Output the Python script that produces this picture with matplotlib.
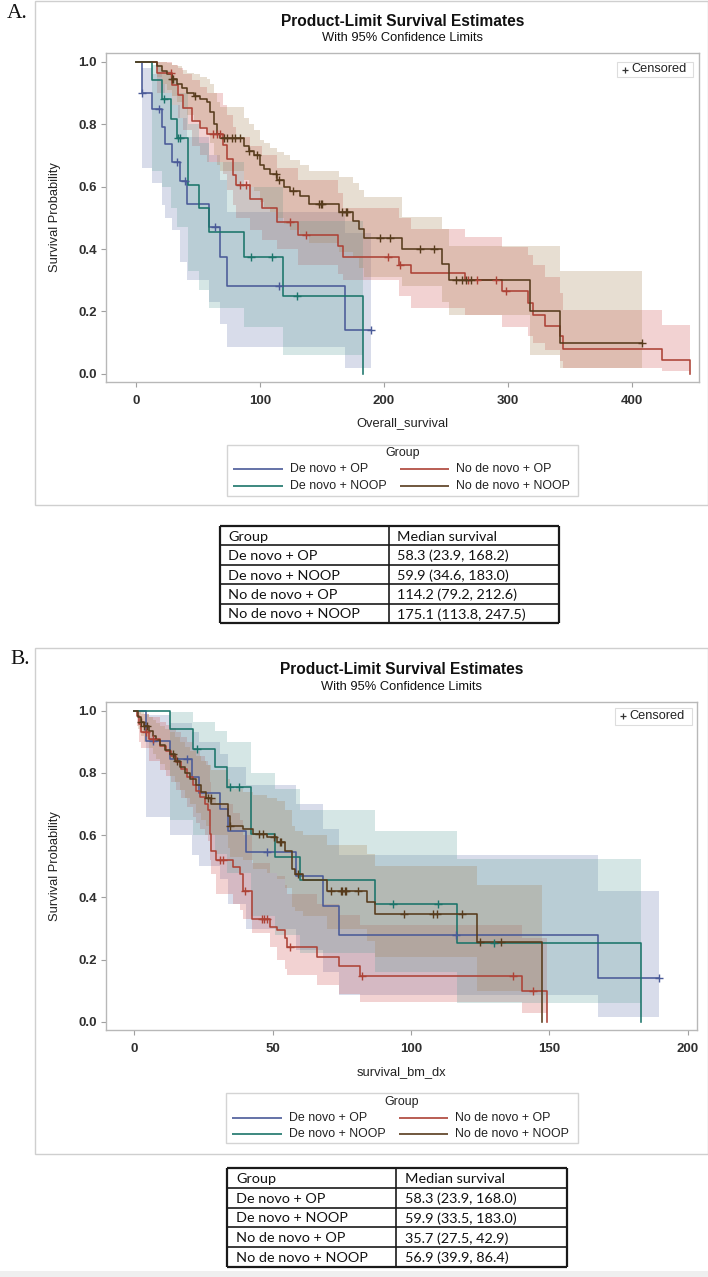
import numpy as np
import matplotlib
matplotlib.use('Agg')
import matplotlib.pyplot as plt
from matplotlib.lines import Line2D
from matplotlib.patches import Rectangle

plt.rcParams['font.family'] = ['Liberation Sans', 'DejaVu Sans']

# ---------------- DATA ----------------
GROUPS = ['De novo + OP', 'No de novo + OP', 'De novo + NOOP', 'No de novo + NOOP']

# Panel A : Overall_survival
A_dnop_t = [0, 4.6, 12.7, 20.8, 23.5, 28.8, 35.6, 41.5, 58.5, 67.9, 73.3, 168.5]
A_dnop_s = [1, .90, .847, .79, .735, .68, .617, .545, .47, .374, .282, .139]
A_dnop_lo = [1, .66, .61, .54, .50, .46, .36, .30, .23, .16, .085, .02]
A_dnop_hi = [1, .98, .96, .93, .90, .86, .82, .76, .70, .62, .52, .45]
A_dnop_end = (189.8, 'censored')
A_dnop_cens = [5.1, 18.9, 33.4, 39.6, 63.9, 115, 189.8]

A_dnnoop_t = [0, 12.7, 20.8, 28.0, 33.4, 42.3, 50.9, 58.5, 86.8, 118.6]
A_dnnoop_s = [1, .941, .882, .818, .757, .604, .53, .455, .374, .251]
A_dnnoop_lo = [1, .65, .60, .53, .47, .33, .27, .21, .15, .06]
A_dnnoop_hi = [1, .99, .97, .94, .90, .80, .74, .68, .60, .49]
A_dnnoop_end = (183.0, 'event')
A_dnnoop_cens = [22.9, 34.2, 35.6, 93.0, 109.7, 130.0]

A_ndnop_t = [0, 16.7, 28.8, 34, 38, 45, 51.6, 57, 70, 73, 78, 81, 92, 102, 114, 131, 163, 167,
             212, 222, 265, 295, 316, 320, 330, 342, 344, 424]
A_ndnop_s = [1, .965, .927, .895, .852, .81, .787, .77, .733, .69, .636, .604, .56, .53, .487, .444,
             .41, .374, .348, .323, .30, .266, .228, .19, .153, .12, .08, .043]
A_ndnop_lo = [1, .90, .86, .82, .78, .73, .70, .68, .64, .59, .54, .50, .46, .43, .40, .35, .32, .30,
              .25, .21, .19, .15, .12, .10, .077, .04, .02, .01]
A_ndnop_hi = [1, 1.0, .99, .98, .96, .94, .92, .90, .86, .83, .79, .76, .73, .70, .66, .62, .58, .53,
              .50, .465, .44, .405, .38, .35, .31, .26, .206, .158]
A_ndnop_end = (447, 'event')
A_ndnop_cens = [28.5, 62, 65, 68, 84, 89, 124.5, 136.7, 203, 213, 268, 275, 290, 298]

A_ndnnoop_t = [0, 17.3, 20.8, 24.8, 28.8, 32.9, 36.9, 41, 46.4, 51.8, 57.1, 59.8, 62.5, 65.2, 67.9,
               86.8, 90.8, 94.9, 100.3, 103, 108.4, 113.7, 119.1, 124.5, 132.6, 139.4, 163.6, 175.1,
               179.8, 183.8, 214.8, 246.5, 252.6, 317.7, 342]
A_ndnnoop_s = [1, .985, .97, .96, .945, .93, .915, .90, .89, .88, .87, .84, .80, .77, .757, .73, .715,
               .70, .67, .655, .64, .62, .60, .585, .57, .545, .52, .49, .465, .435, .40, .352, .30,
               .20, .099]
A_ndnnoop_lo = [1, .95, .93, .91, .89, .87, .85, .83, .81, .79, .77, .74, .70, .67, .65, .62, .60,
                .585, .55, .535, .52, .50, .48, .46, .445, .42, .39, .37, .34, .31, .28, .23, .19,
                .06, .02]
A_ndnnoop_hi = [1, 1.0, 1.0, .995, .99, .985, .975, .965, .96, .95, .945, .93, .90, .87, .855, .82,
                .80, .78, .75, .74, .725, .71, .70, .685, .67, .65, .63, .61, .59, .567, .503, .465,
                .41, .41, .33]
A_ndnnoop_end = (407.8, 'censored')
A_ndnnoop_cens = [28.8, 30.2, 47.2, 70.6, 73.3, 77.3, 80, 84, 90.8, 97.6, 113, 115, 126.6, 147.5,
                  148.8, 150.2, 166.3, 169, 170.4, 197, 205, 229, 240, 258, 263, 266, 270, 407.8]

# Panel B : survival_bm_dx
B_dnop_t = [0, 4.2, 12.7, 20.9, 23.3, 30.8, 33.9, 40.5, 58.3, 68, 74.1, 167.6]
B_dnop_s = [1, .904, .845, .786, .735, .684, .615, .545, .47, .374, .278, .14]
B_dnop_lo = [1, .66, .60, .535, .50, .46, .38, .30, .23, .16, .085, .017]
B_dnop_hi = [1, .985, .96, .93, .90, .86, .82, .76, .70, .62, .535, .42]
B_dnop_end = (189.5, 'censored')
B_dnop_cens = [6.6, 19, 47.8, 116.2, 189.5]

B_dnnoop_t = [0, 12.9, 21.2, 29, 33.3, 42, 50.8, 59.9, 87, 116.7]
B_dnnoop_s = [1, .941, .877, .82, .756, .604, .53, .455, .378, .252]
B_dnnoop_lo = [1, .65, .60, .54, .48, .34, .28, .22, .16, .06]
B_dnnoop_hi = [1, .995, .965, .935, .90, .80, .75, .68, .615, .525]
B_dnnoop_end = (183, 'event')
B_dnnoop_cens = [22.7, 34.7, 37.8, 93.4, 109.8, 130]

B_ndnop_t = [0, 0.85, 1.8, 2.4, 5.4, 9.1, 11.5, 13.3, 15.1, 16.9, 19, 21.2, 22.4, 23.6, 25.4, 26.6,
             27.2, 27.8, 29.6, 35.7, 38.1, 39.3, 42.5, 49, 51.5, 54.5, 55, 66, 73.8, 81.6, 140]
B_ndnop_s = [1, .984, .957, .93, .909, .888, .872, .856, .834, .813, .786, .76, .743, .722, .70, .68,
             .604, .55, .52, .497, .476, .42, .332, .305, .295, .27, .24, .21, .18, .147, .10]
B_ndnop_lo = [1, .95, .90, .88, .84, .81, .79, .77, .745, .72, .69, .66, .64, .62, .60, .58, .52,
              .475, .41, .38, .36, .33, .285, .24, .20, .17, .15, .12, .09, .065, .03]
B_ndnop_hi = [1, 1.0, .995, .99, .98, .965, .955, .945, .93, .915, .90, .88, .87, .855, .84, .825,
              .77, .72, .70, .67, .65, .60, .51, .48, .47, .44, .41, .38, .345, .31, .27]
B_ndnop_end = (149, 'event')
B_ndnop_cens = [4.0, 6.6, 31, 32, 40, 46, 47, 48, 56.3, 82.2, 136.7, 144]

B_ndnnoop_t = [0, 1.2, 2.4, 3.6, 5.4, 6.7, 7.9, 9.1, 10.9, 12.7, 14.5, 16.3, 18.1, 20, 22.4, 24.2,
               26, 27.8, 33.9, 34.5, 39.3, 42.9, 47.8, 51.4, 54.4, 56.9, 58, 60.9, 69.5, 84, 87, 124]
B_ndnnoop_s = [1, .98, .965, .95, .935, .92, .905, .89, .875, .86, .84, .82, .80, .78, .76, .74, .72,
               .70, .663, .63, .62, .604, .594, .578, .55, .49, .475, .455, .422, .385, .348, .257]
B_ndnnoop_lo = [1, .94, .92, .90, .88, .86, .845, .83, .81, .79, .77, .745, .72, .70, .67, .65, .63,
                .60, .56, .53, .52, .49, .48, .46, .43, .37, .355, .34, .30, .26, .21, .10]
B_ndnnoop_hi = [1, 1.0, .995, .99, .98, .97, .96, .95, .94, .93, .915, .90, .885, .87, .855, .84,
                .825, .81, .78, .75, .74, .73, .72, .71, .68, .63, .615, .60, .57, .54, .50, .44]
B_ndnnoop_end = (147.5, 'event')
B_ndnnoop_cens = [2.4, 3.6, 4.5, 14, 15.5, 26.5, 27.5, 34.5, 45, 46.5, 50.5, 52.5, 53, 59, 71, 74.5,
                  75.2, 76, 76.5, 80.8, 97.3, 108, 109.5, 118.3, 125, 132.7]

A_xticks = [0, 100, 200, 300, 400]
B_xticks = [0, 50, 100, 150, 200]
Y_ticks = [0.0, 0.2, 0.4, 0.6, 0.8, 1.0]
Y_ticklabels = ['0.0', '0.2', '0.4', '0.6', '0.8', '1.0']

TABLE_HEADER = ['Group', 'Median survival']
A_medians = ['58.3 (23.9, 168.2)', '59.9 (34.6, 183.0)', '114.2 (79.2, 212.6)', '175.1 (113.8, 247.5)']
B_medians = ['58.3 (23.9, 168.0)', '59.9 (33.5, 183.0)', '35.7 (27.5, 42.9)', '56.9 (39.9, 86.4)']
TABLE_GROUPS = ['De novo + OP', 'De novo + NOOP', 'No de novo + OP', 'No de novo + NOOP']

# ---------------- STYLE ----------------
LINE_COL = {'De novo + OP': '#4a5a98', 'No de novo + OP': '#ad4236',
            'De novo + NOOP': '#1b746a', 'No de novo + NOOP': '#573b1c'}
FILL_COL = {'De novo + OP': '#6F7EB3', 'No de novo + OP': '#D05B5B',
            'De novo + NOOP': '#66A5A0', 'No de novo + NOOP': '#A9865B'}
FILL_ALPHA = 0.27

W, H = 708, 1277
fig = plt.figure(figsize=(W / 100, H / 100), dpi=100)


def fx(x):
    return x / W


def fy(y):
    return 1 - y / H


def add_rect(x0, y0, x1, y1, ec, lw=1.0, fc='none', z=0):
    fig.add_artist(Rectangle((fx(x0), fy(y1)), (x1 - x0) / W, (y1 - y0) / H,
                             transform=fig.transFigure, fill=(fc != 'none'), fc=fc, ec=ec, lw=lw, zorder=z))


def add_line(x0, x1, y0, y1, color, lw):
    fig.add_artist(Line2D([fx(x0), fx(x1)], [fy(y0), fy(y1)], transform=fig.transFigure,
                          color=color, lw=lw, solid_capstyle='butt'))


def draw_panel(box, data, xlim, xticks, xlabel, title_y, sub_y, cens_box, xlabel_y,
               leg_box, leg_title_y, leg_rows):
    x0, y0, x1, y1 = box
    ax = fig.add_axes([fx(x0), fy(y1), (x1 - x0) / W, (y1 - y0) / H])
    # bands first
    for g in GROUPS:
        t, s, lo, hi, end, cens = data[g]
        xe = list(t) + [end[0]]
        ax.fill_between(xe, list(lo) + [lo[-1]], list(hi) + [hi[-1]], step='post',
                        color=FILL_COL[g], alpha=FILL_ALPHA, lw=0, zorder=1)
    for g in GROUPS:
        t, s, lo, hi, end, cens = data[g]
        xe = list(t) + [end[0]]
        ye = list(s) + [0.0 if end[1] == 'event' else s[-1]]
        ax.step(xe, ye, where='post', color=LINE_COL[g], lw=1.15, zorder=3)
        ta = np.asarray(t)
        cy = [s[np.searchsorted(ta, c, side='right') - 1] for c in cens]
        ax.plot(cens, cy, ls='none', marker='+', ms=6, mew=1.0, color=LINE_COL[g], zorder=4)
    ax.set_xlim(*xlim)
    ax.set_ylim(-0.026, 1.028)
    ax.set_xticks(xticks)
    ax.set_yticks(Y_ticks)
    ax.set_yticklabels(Y_ticklabels)
    for sp in ax.spines.values():
        sp.set_color('#b8b8b8')
        sp.set_linewidth(1.0)
    ax.tick_params(axis='both', direction='out', length=3.5, width=0.8, color='#a0a0a0',
                   labelsize=9.5, labelcolor='#303030')
    ax.tick_params(axis='x', pad=6)
    ax.tick_params(axis='y', pad=3)
    for lab in ax.get_xticklabels() + ax.get_yticklabels():
        lab.set_fontweight('bold')
    # titles
    cx = (x0 + x1) / 2
    fig.text(fx(cx), fy(title_y), 'Product-Limit Survival Estimates', ha='center', va='center',
             fontsize=11.2, fontweight='bold', color='#111111')
    fig.text(fx(cx), fy(sub_y), 'With 95% Confidence Limits', ha='center', va='center',
             fontsize=9.3, color='#111111')
    fig.text(fx(55), fy((y0 + y1) / 2), 'Survival Probability', rotation=90, ha='center',
             va='center', fontsize=9.3, color='#222222')
    fig.text(fx(cx), fy(xlabel_y), xlabel, ha='center', va='center', fontsize=9.3, color='#222222')
    # censored legend
    cbx0, cby0, cbx1, cby1 = cens_box
    add_rect(cbx0, cby0, cbx1, cby1, ec='#dddddd', fc='white', lw=0.8, z=5)
    fig.add_artist(Line2D([fx(cbx0 + 8)], [fy((cby0 + cby1) / 2)], transform=fig.transFigure,
                          marker='+', ms=4.5, mew=0.9, color='#333333', ls='none', zorder=6))
    fig.text(fx(cbx0 + 14), fy((cby0 + cby1) / 2), 'Censored', ha='left', va='center',
             fontsize=9.2, color='#222222', zorder=6)
    # group legend
    lx0, ly0, lx1, ly1 = leg_box
    add_rect(lx0, ly0, lx1, ly1, ec='#d4d4d4', lw=1.0)
    fig.text(fx((lx0 + lx1) / 2), fy(leg_title_y), 'Group', ha='center', va='center',
             fontsize=8.9, color='#222222')
    cols = [(lx0 + 6, lx0 + 56, lx0 + 63), (lx0 + 173, lx0 + 222, lx0 + 229)]
    order = [('De novo + OP', 0, 0), ('No de novo + OP', 1, 0),
             ('De novo + NOOP', 0, 1), ('No de novo + NOOP', 1, 1)]
    for g, ci, ri in order:
        h0, h1, tx = cols[ci]
        yy = leg_rows[ri]
        add_line(h0, h1, yy, yy, LINE_COL[g], 1.2)
        fig.text(fx(tx), fy(yy), g, ha='left', va='center', fontsize=8.9, color='#222222')
    return ax


def draw_table(x0, x1, xdiv, y0, y1, groups, medians, pad):
    n = len(groups) + 1
    rh = (y1 - y0) / n
    for i in range(n + 1):
        lw = 1.6 if i in (0, n) else 1.2
        add_line(x0, x1, y0 + i * rh, y0 + i * rh, '#1a1a1a', lw)
    add_line(x0, x0, y0, y1, '#1a1a1a', 1.6)
    add_line(x1, x1, y0, y1, '#1a1a1a', 1.6)
    add_line(xdiv, xdiv, y0, y1, '#1a1a1a', 1.2)
    rows = [TABLE_HEADER] + [[g, m] for g, m in zip(groups, medians)]
    for i, (a, b) in enumerate(rows):
        yc = y0 + (i + 0.5) * rh + 1
        fig.text(fx(x0 + pad), fy(yc), a, ha='left', va='center', fontsize=10.4,
                 family=['Lato', 'DejaVu Sans'], color='#111111')
        fig.text(fx(xdiv + pad), fy(yc), b, ha='left', va='center', fontsize=10.4,
                 family=['Lato', 'DejaVu Sans'], color='#111111')


# frames
add_rect(35, 0.5, 707.5, 505, ec='#cfcfcf', lw=1.0)
add_rect(35, 648, 707.5, 1154, ec='#cfcfcf', lw=1.0)
add_rect(0, 1271, 708, 1277, ec='none', fc='#efefef')

fig.text(fx(7), fy(13), 'A.', ha='left', va='center', fontsize=15.5,
         family=['Liberation Serif', 'DejaVu Serif'], color='#111111')
fig.text(fx(10), fy(660), 'B.', ha='left', va='center', fontsize=15.5,
         family=['Liberation Serif', 'DejaVu Serif'], color='#111111')

dataA = {
    'De novo + OP': (A_dnop_t, A_dnop_s, A_dnop_lo, A_dnop_hi, A_dnop_end, A_dnop_cens),
    'De novo + NOOP': (A_dnnoop_t, A_dnnoop_s, A_dnnoop_lo, A_dnnoop_hi, A_dnnoop_end, A_dnnoop_cens),
    'No de novo + OP': (A_ndnop_t, A_ndnop_s, A_ndnop_lo, A_ndnop_hi, A_ndnop_end, A_ndnop_cens),
    'No de novo + NOOP': (A_ndnnoop_t, A_ndnnoop_s, A_ndnnoop_lo, A_ndnnoop_hi, A_ndnnoop_end,
                          A_ndnnoop_cens),
}
dataB = {
    'De novo + OP': (B_dnop_t, B_dnop_s, B_dnop_lo, B_dnop_hi, B_dnop_end, B_dnop_cens),
    'De novo + NOOP': (B_dnnoop_t, B_dnnoop_s, B_dnnoop_lo, B_dnnoop_hi, B_dnnoop_end, B_dnnoop_cens),
    'No de novo + OP': (B_ndnop_t, B_ndnop_s, B_ndnop_lo, B_ndnop_hi, B_ndnop_end, B_ndnop_cens),
    'No de novo + NOOP': (B_ndnnoop_t, B_ndnnoop_s, B_ndnnoop_lo, B_ndnnoop_hi, B_ndnnoop_end,
                          B_ndnnoop_cens),
}

draw_panel((106, 53, 699, 382), dataA, (-24.2, 454), A_xticks, 'Overall_survival',
           22, 38, (617, 62, 693, 77), 423, (227, 445, 578, 496), 453, (469, 486))
draw_panel((106, 702, 697, 1030), dataB, (-10.3, 203.4), B_xticks, 'survival_bm_dx',
           670, 687, (615, 708, 692, 725), 1072, (226, 1093, 578, 1143), 1102, (1118, 1134))

draw_table(220, 559, 389, 526, 623, TABLE_GROUPS, A_medians, 8)
draw_table(227, 567, 396, 1168, 1267, TABLE_GROUPS, B_medians, 9)

fig.savefig('out.png', dpi=100)
